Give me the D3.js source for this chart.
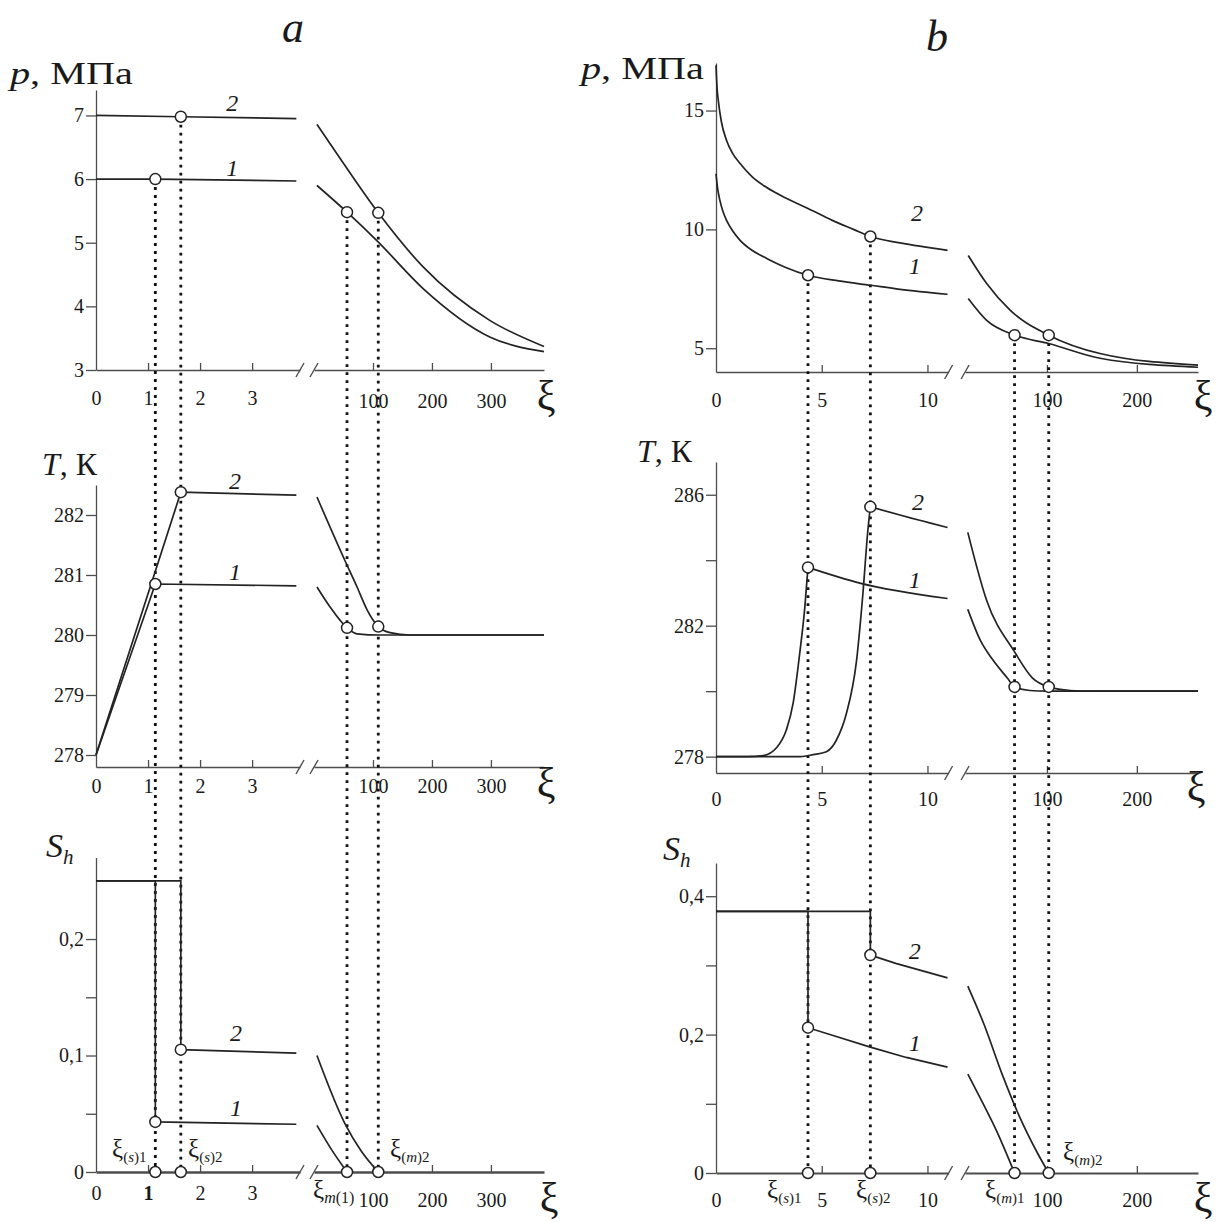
<!DOCTYPE html>
<html><head><meta charset="utf-8">
<script src="https://cdn.jsdelivr.net/npm/d3@7"></script>
<style>
body{margin:0;background:#fff}
svg{display:block}
text{font-family:"Liberation Serif","Times New Roman",serif;fill:#1a1a1a}
</style>
</head><body>
<svg id="c" width="1218" height="1222"></svg>
<script>
// ================= DATA =================
// ---- column a ----
const aXiS = [1.14, 1.63];          // ξ(s)1, ξ(s)2
const aXiM = [56, 109];             // ξ(m)1, ξ(m)2
const aXTicksL = [0, 1, 2, 3];
const aXTicksR = [100, 200, 300];
const aPTicks = [3, 4, 5, 6, 7];
const aTTicks = [278, 279, 280, 281, 282];
const aShTicks = [0, 0.1, 0.2];
const aShMinor = [0.05, 0.15];

const aP1L = [[0, 6.0], [1.14, 6.0], [3.85, 5.97]];
const aP2L = [[0, 7.0], [1.63, 6.98], [3.85, 6.95]];
const aP1R = [[5, 5.9], [56, 5.48], [107, 5.03], [185, 4.28], [298, 3.52], [390, 3.29]];
const aP2R = [[5, 6.86], [49, 6.26], [109, 5.47], [185, 4.62], [298, 3.78], [390, 3.37]];
const aPMarksL = [[1.14, 6.0], [1.63, 6.98]];
const aPMarksR = [[56, 5.48], [109, 5.47]];

const aT1L = [[0, 278], [1.14, 280.85], [3.85, 280.82]];
const aT2L = [[0, 278], [1.63, 282.38], [3.85, 282.33]];
const aT1R = [[5, 280.8], [27, 280.47], [56, 280.12], [73, 280.02], [112, 280.0], [390, 280]];
const aT2R = [[5, 282.3], [52, 281.25], [73, 280.8], [90, 280.42], [109, 280.14], [129, 280.04], [163, 280.0], [390, 280]];
const aTMarksL = [[1.14, 280.85], [1.63, 282.38]];
const aTMarksR = [[56, 280.12], [109, 280.14]];

const aSh1L = [[0, 0.25], [1.14, 0.25], [1.14, 0.043], [3.85, 0.041]];
const aSh2L = [[0, 0.25], [1.63, 0.25], [1.63, 0.105], [3.85, 0.102]];
const aSh1R = [[5, 0.04], [30, 0.019], [56, 0]];
const aSh2R = [[5, 0.1], [52, 0.042], [80, 0.018], [109, 0]];
const aShMarksL = [[1.14, 0.043], [1.63, 0.105], [1.14, 0], [1.63, 0]];
const aShMarksR = [[56, 0], [109, 0]];

// ---- column b ----
const bXiS = [4.35, 7.3];
const bXiM = [64, 102];
const bXTicksL = [0, 5, 10];
const bXTicksR = [100, 200];
const bPTicks = [5, 10, 15];
const bTTicks = [278, 282, 286];
const bTMinor = [280, 284];
const bShTicks = [0, 0.2, 0.4];
const bShMinor = [0.1, 0.3];

const bP1L = [[0, 12.34], [0.08, 11.7], [0.19, 11.2], [0.33, 10.75], [0.5, 10.38], [0.8, 9.92], [1.14, 9.54], [1.7, 9.12], [2.4, 8.78], [3.3, 8.4], [4.35, 8.07], [5.8, 7.83], [7.3, 7.65], [8.7, 7.48], [10.95, 7.27]];
const bP2L = [[0, 16.9], [0.05, 15.95], [0.11, 15.42], [0.25, 14.55], [0.5, 13.74], [0.8, 13.18], [1.14, 12.77], [1.7, 12.22], [2.4, 11.76], [3.3, 11.32], [4.35, 10.88], [5.5, 10.38], [6.5, 10.0], [7.3, 9.7], [8.7, 9.43], [10.95, 9.12]];
const bP1R = [[12.5, 7.09], [33, 6.17], [64, 5.55], [102, 5.2], [159, 4.58], [268, 4.2]];
const bP2R = [[12.5, 8.9], [33, 7.72], [59, 6.6], [102, 5.55], [159, 4.78], [268, 4.29]];
const bPMarksL = [[4.35, 8.07], [7.3, 9.7]];
const bPMarksR = [[64, 5.55], [102, 5.55]];

const bT1Rise = [[0, 278], [1.5, 278], [2.23, 278.03], [2.86, 278.27], [3.33, 278.82], [3.65, 279.64], [3.96, 281.16], [4.2, 282.56], [4.35, 283.78]];
const bT1Fall = [[4.35, 283.78], [6.8, 283.3], [10.95, 282.83]];
const bT2Rise = [[0, 278], [4.0, 278], [4.6, 278.06], [5.22, 278.15], [5.69, 278.5], [6.16, 279.3], [6.64, 280.9], [6.95, 283.0], [7.18, 284.9], [7.3, 285.63]];
const bT2Fall = [[7.3, 285.63], [10.1, 285.14], [10.95, 285.0]];
const bT1R = [[12, 282.5], [26, 281.55], [40, 280.95], [56, 280.4], [64, 280.13], [81, 280.02], [100, 280], [268, 280]];
const bT2R = [[12, 284.85], [33, 282.77], [64, 281.2], [84, 280.4], [102, 280.13], [126, 280.02], [150, 280], [268, 280]];
const bTMarksL = [[4.35, 283.78], [7.3, 285.63]];
const bTMarksR = [[64, 280.13], [102, 280.13]];

const bSh1L = [[0, 0.378], [4.35, 0.378], [4.35, 0.21], [5.5, 0.199], [7.3, 0.182], [9, 0.167], [10.95, 0.153]];
const bSh2L = [[0, 0.378], [7.3, 0.378], [7.3, 0.315], [8.5, 0.303], [10.95, 0.282]];
const bSh1R = [[12, 0.143], [26, 0.108], [44, 0.061], [64, 0]];
const bSh2R = [[12, 0.27], [30, 0.215], [51, 0.14], [70, 0.08], [89, 0.03], [102, 0]];
const bShMarksL = [[4.35, 0.21], [7.3, 0.315], [4.35, 0], [7.3, 0]];
const bShMarksR = [[64, 0], [102, 0]];

// ================= DRAWING =================
const svg = d3.select('#c');
const FONT = '"Liberation Serif","Times New Roman",serif';
const AX = '#4d4d4d', LN = '#232323';

const colA = {xL: d3.scaleLinear([0, 3.92], [96, 300]), xR: d3.scaleLinear([0, 390], [314, 544]), rStart: 0, rEnd: 390, tL: aXTicksL, tR: aXTicksR};
const colB = {xL: d3.scaleLinear([0, 11], [716, 948.6]), xR: d3.scaleLinear([0, 268], [957, 1198]), rStart: 9, rEnd: 268, tL: bXTicksL, tR: bXTicksR};

const comma = d => String(d).replace('.', ',');

const panels = [
  {col: colA, y: d3.scaleLinear([3, 7.4], [370, 90]), yT: aPTicks, yM: [], fmt: d => d,
   sL: [[aP1L, 'lin'], [aP2L, 'lin']], sR: [[aP1R, 'mono'], [aP2R, 'mono']],
   mL: aPMarksL, mR: aPMarksR, labs: [['2', 2.62, 7.2], ['1', 2.62, 6.18]],
   padL: 21, padR: 24, xi: [546, 410], aw: 1.3},
  {col: colA, y: d3.scaleLinear([277.8, 282.5], [767, 485]), yT: aTTicks, yM: [], fmt: d => d,
   sL: [[aT1L, 'lin'], [aT2L, 'lin']], sR: [[aT1R, 'mono'], [aT2R, 'mono']],
   mL: aTMarksL, mR: aTMarksR, labs: [['2', 2.67, 282.57], ['1', 2.67, 281.05]],
   padL: 12, padR: 12, xi: [546, 797], aw: 1.3},
  {col: colA, y: d3.scaleLinear([0, 0.27], [1172, 857.5]), yT: aShTicks, yM: aShMinor, fmt: comma,
   sL: [[aSh1L, 'lin'], [aSh2L, 'lin']], sR: [[aSh1R, 'mono'], [aSh2R, 'mono']],
   mL: aShMarksL, mR: aShMarksR, labs: [['2', 2.69, 0.12], ['1', 2.69, 0.055]],
   padL: 14, padR: 21, xi: [549, 1212], aw: 2.4, boldOne: true},
  {col: colB, y: d3.scaleLinear([4, 17], [372, 63]), yT: bPTicks, yM: [], fmt: d => d,
   sL: [[bP1L, 'mono'], [bP2L, 'mono']], sR: [[bP1R, 'mono'], [bP2R, 'mono']],
   mL: bPMarksL, mR: bPMarksR, labs: [['2', 9.5, 10.72], ['1', 9.4, 8.48]],
   padL: 21, padR: 21, xi: [1203, 410], aw: 1.3},
  {col: colB, y: d3.scaleLinear([277.5, 287], [773, 462]), yT: bTTicks, yM: bTMinor, fmt: d => d,
   sL: [[bT1Rise, 'mono'], [bT1Fall, 'mono'], [bT2Rise, 'mono'], [bT2Fall, 'mono']], sR: [[bT1R, 'mono'], [bT2R, 'mono']],
   mL: bTMarksL, mR: bTMarksR, labs: [['2', 9.55, 285.8], ['1', 9.4, 283.4]],
   padL: 19, padR: 19, xi: [1196, 801], aw: 1.3},
  {col: colB, y: d3.scaleLinear([0, 0.448], [1173, 863]), yT: bShTicks, yM: bShMinor, fmt: comma,
   sL: [[bSh1L, 'lin'], [bSh2L, 'lin']], sR: [[bSh1R, 'mono'], [bSh2R, 'mono']],
   mL: bShMarksL, mR: bShMarksR, labs: [['2', 9.4, 0.322], ['1', 9.4, 0.188]],
   padL: 20, padR: 20, xi: [1203, 1212], aw: 2.0}
];

function styleAxis(a, aw) {
  a.attr('font-family', FONT).attr('font-size', 20);
  a.select('.domain').attr('stroke', AX).attr('stroke-width', aw);
  a.selectAll('.tick line').attr('stroke', AX).attr('stroke-width', 1.3);
  a.selectAll('.tick text').attr('fill', '#1a1a1a');
}
function slash(g, x, y) {
  g.append('path').attr('d', `M${x - 4},${y + 7}L${x + 4},${y - 7}`)
    .attr('stroke', AX).attr('stroke-width', 1.4).attr('fill', 'none');
}

const gAxes = svg.append('g'), gDots = svg.append('g'), gCurves = svg.append('g'), gMarks = svg.append('g'), gText = svg.append('g');

panels.forEach(P => {
  const {col, y} = P;
  const xL = col.xL, xR = col.xR;
  const yb = y.range()[0];
  // y axis
  const allY = P.yT.concat(P.yM);
  const ya = gAxes.append('g').attr('transform', `translate(${xL(0)},0)`)
    .call(d3.axisLeft(y).tickValues(allY).tickSizeInner(10).tickSizeOuter(0).tickPadding(2)
      .tickFormat(d => P.yT.includes(d) ? P.fmt(d) : ''));
  styleAxis(ya, 1.3);
  // x axis left
  const xa = gAxes.append('g').attr('transform', `translate(0,${yb})`)
    .call(d3.axisBottom(xL).tickValues(col.tL).tickSizeInner(-7).tickSizeOuter(0).tickPadding(P.padL).tickFormat(d => d));
  styleAxis(xa, P.aw);
  xa.selectAll('.tick').filter(d => d === 0).select('line').remove();
  if (P.boldOne) xa.selectAll('.tick text').filter(d => d === 1).attr('font-weight', 'bold');
  slash(gAxes, xL.range()[1], yb);
  // x axis right
  const xr = xR.copy().domain([col.rStart, col.rEnd]).range([xR(col.rStart), xR(col.rEnd)]);
  const xb = gAxes.append('g').attr('transform', `translate(0,${yb})`)
    .call(d3.axisBottom(xr).tickValues(col.tR).tickSizeInner(-7).tickSizeOuter(0).tickPadding(P.padR).tickFormat(d => d));
  styleAxis(xb, P.aw);
  slash(gAxes, xR(col.rStart), yb);
  // big xi
  gText.append('text').attr('x', P.xi[0]).attr('y', P.xi[1]).attr('text-anchor', 'middle')
    .attr('font-size', 42).text('ξ');
  // curves
  const mk = (xs, kind) => d3.line().x(d => xs(d[0])).y(d => y(d[1]))
    .curve(kind === 'mono' ? d3.curveMonotoneX : d3.curveLinear);
  P.sL.forEach(([d, k]) => gCurves.append('path').attr('d', mk(xL, k)(d))
    .attr('fill', 'none').attr('stroke', LN).attr('stroke-width', 1.7));
  P.sR.forEach(([d, k]) => gCurves.append('path').attr('d', mk(xR, k)(d))
    .attr('fill', 'none').attr('stroke', LN).attr('stroke-width', 1.7));
  // markers
  P.mL.forEach(d => gMarks.append('circle').attr('cx', xL(d[0])).attr('cy', y(d[1])).attr('r', 5.5)
    .attr('fill', '#fff').attr('stroke', LN).attr('stroke-width', 1.5));
  P.mR.forEach(d => gMarks.append('circle').attr('cx', xR(d[0])).attr('cy', y(d[1])).attr('r', 5.5)
    .attr('fill', '#fff').attr('stroke', LN).attr('stroke-width', 1.5));
  // curve numbers
  P.labs.forEach(([t, xv, yv]) => gText.append('text').attr('x', xL(xv)).attr('y', y(yv)).attr('dy', '0.35em')
    .attr('text-anchor', 'middle').attr('font-size', 24).attr('font-style', 'italic').text(t));
});

// dotted verticals
function dotted(x, y1, y2) {
  gDots.append('line').attr('x1', x).attr('x2', x).attr('y1', y1).attr('y2', y2)
    .attr('stroke', '#111').attr('stroke-width', 2.8).attr('stroke-dasharray', '2.8,5.2');
}
const pA = panels[0].y, sA = panels[2].y, pB = panels[3].y, sB = panels[5].y;
aXiS.forEach((v, i) => dotted(colA.xL(v), pA(aPMarksL[i][1]), sA(0)));
aXiM.forEach((v, i) => dotted(colA.xR(v), pA(aPMarksR[i][1]), sA(0)));
bXiS.forEach((v, i) => dotted(colB.xL(v), pB(bPMarksL[i][1]), sB(0)));
bXiM.forEach((v, i) => dotted(colB.xR(v), pB(bPMarksR[i][1]), sB(0)));

// titles
function t(x, y, size, parts, anchor, len) {
  const el = gText.append('text').attr('x', x).attr('y', y).attr('font-size', size).attr('text-anchor', anchor || 'start');
  if (len) el.attr('textLength', len).attr('lengthAdjust', 'spacingAndGlyphs');
  parts.forEach(p => {
    const s = el.append('tspan').text(p.t);
    if (p.i) s.attr('font-style', 'italic');
    if (p.fs) s.attr('font-size', p.fs);
    if (p.dy) s.attr('dy', p.dy);
  });
  return el;
}
t(293, 42, 44, [{t: 'a', i: 1}], 'middle');
t(937, 51, 44, [{t: 'b', i: 1}], 'middle');
t(10, 84, 31, [{t: 'p', i: 1}, {t: ', МПа'}], 'start', 123);
t(581, 79, 31, [{t: 'p', i: 1}, {t: ', МПа'}], 'start', 123);
t(42, 475, 32, [{t: 'T', i: 1}, {t: ', К'}]);
t(637, 462, 32, [{t: 'T', i: 1}, {t: ', К'}]);
t(46, 857, 34, [{t: 'S', i: 1}, {t: 'h', i: 1, fs: 21, dy: 7}]);
t(663, 860, 34, [{t: 'S', i: 1}, {t: 'h', i: 1, fs: 21, dy: 7}]);

// ξ markers
function xiLab(x, y, sub1, si, sub2) {
  t(x, y, 25, [{t: 'ξ'}, {t: sub1, fs: 15, dy: 5}, {t: si, i: 1, fs: 15}, {t: sub2, fs: 15}]);
}
xiLab(112, 1157, '(', 's', ')1');
xiLab(188, 1157, '(', 's', ')2');
xiLab(390, 1157, '(', 'm', ')2');
t(313, 1198, 25, [{t: 'ξ'}, {t: 'm', i: 1, fs: 16, dy: 5}, {t: '(1)', fs: 16}]);
xiLab(767, 1198, '(', 's', ')1');
xiLab(856, 1198, '(', 's', ')2');
xiLab(1063, 1160, '(', 'm', ')2');
xiLab(985, 1198, '(', 'm', ')1');
</script>
</body></html>
